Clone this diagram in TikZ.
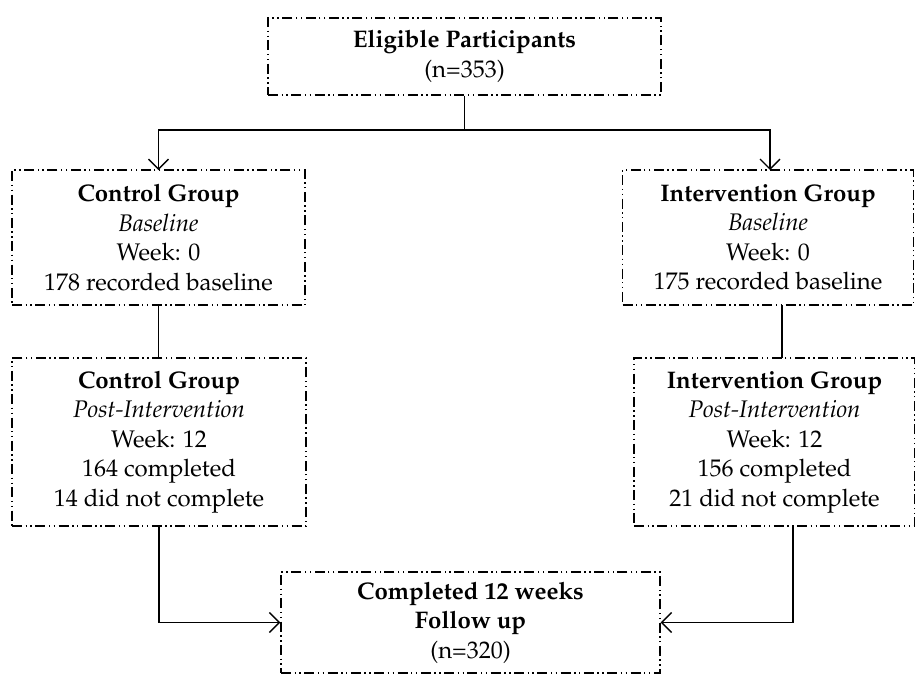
\documentclass[tikz,border=0pt]{standalone}
\usepackage[T1]{fontenc}
\usepackage{mathpazo}
\usetikzlibrary{arrows.meta}
\tikzset{
  box/.style={draw, line width=1.4pt, dash pattern=on 10pt off 3.5pt on 1.4pt off 3.5pt on 1.4pt off 3.5pt,
    align=center, inner sep=0pt, font=\fontsize{24}{29.5}\selectfont},
  conn/.style={draw, line width=1.3pt},
  arr/.style={conn, -{Straight Barb[length=10pt,width=20pt,line width=1.3pt]}}
}
\begin{document}
\begin{tikzpicture}[x=1pt,y=-1pt]
\useasboundingbox (0,0) rectangle (915,675);
\node[box, minimum width=393pt, minimum height=77pt] (top) at (464.5,56.5)
  {\textbf{Eligible Participants}\\(n=353)};
\node[box, minimum width=293pt, minimum height=135pt] (cb) at (158.5,237.5)
  {\textbf{Control Group}\\\textit{Baseline}\\Week: 0\\178 recorded baseline};
\node[box, minimum width=291pt, minimum height=135pt] (ib) at (768,237.5)
  {\textbf{Intervention Group}\\\textit{Baseline}\\Week: 0\\175 recorded baseline};
\node[box, minimum width=294pt, minimum height=168pt] (cp) at (159,442)
  {\textbf{Control Group}\\\textit{Post-Intervention}\\Week: 12\\164 completed\\14 did not complete};
\node[box, minimum width=281pt, minimum height=168pt] (ip) at (774.5,442)
  {\textbf{Intervention Group}\\\textit{Post-Intervention}\\Week: 12\\156 completed\\21 did not complete};
\node[box, minimum width=379pt, minimum height=101pt] (fu) at (470.5,622.5)
  {\textbf{Completed 12 weeks}\\\textbf{Follow up}\\(n=320)};
\coordinate (split) at (464.5,130);
\coordinate (cbtop) at (158.5,170);
\coordinate (ibtop) at (770,170);
\draw[conn] (top.south) -- (split);
\draw[arr] (split) -| (cbtop);
\draw[arr] (split) -| (ibtop);
\draw[conn] (cb.south) -- (cb.south |- cp.north);
\draw[conn] (782,305) coordinate (ibbot) -- (782,358) coordinate (iptop);
\draw[arr] (cp.south) |- (fu.west);
\coordinate (ipbot) at (793,526);
\draw[arr] (ipbot) |- (fu.east);
\end{tikzpicture}
\end{document}
